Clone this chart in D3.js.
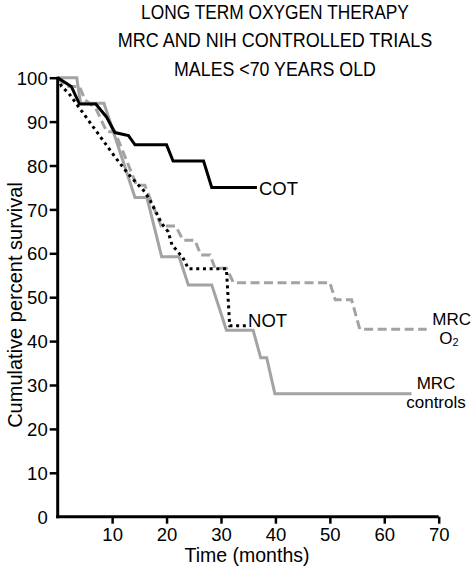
<!DOCTYPE html>
<html><head><meta charset="utf-8">
<script src="https://cdn.jsdelivr.net/npm/d3@7"></script>
<style>
body{margin:0;background:#fff;}
svg text{font-family:"Liberation Sans",Arial,sans-serif;fill:#000;}
</style></head>
<body><svg id="c" width="473" height="568"></svg>
<script>
const titleLines = ["LONG TERM OXYGEN THERAPY","MRC AND NIH CONTROLLED TRIALS","MALES <70 YEARS OLD"];
const xTicks = [10,20,30,40,50,60,70];
const yTicks = [0,10,20,30,40,50,60,70,80,90,100];
const xLabel = "Time (months)";
const yLabel = "Cumulative percent survival";

// [months, percent]
const cot = [[0,100],[2.5,98],[4,94],[7,94],[9,91],[10.5,87.5],[13,86.8],[14.2,84.7],[20,84.7],[21.2,81],[26.8,81],[28.3,75],[36.6,75]];
const notData = [[0,100],[0.7,98],[2,96.5],[10.8,81.5],[13,78],[16,74],[17,72],[19.1,66.8],[20.3,64.9],[21,61.9],[23,59],[24,56.5],[31,56.5],[31.6,43.5],[34.6,43.5]];
const mrcO2 = [[0,100],[1.5,98],[4,98],[5,95],[7,93],[9,87.7],[10.5,87.7],[14.5,75.5],[16,75.5],[19,66.2],[21.7,66.2],[23,63],[25.2,63],[26.3,59.6],[28,59.6],[28.9,56.6],[31,56.6],[32.3,53.3],[50,53.3],[51,49.4],[54,49.4],[55.5,42.7],[67.8,42.7]];
const mrcControls = [[0,100],[3.5,100],[4.2,94.2],[8.5,94.2],[14.2,72.7],[16.4,72.7],[19.1,59.2],[22.3,59.2],[24,52.8],[28.3,52.8],[31,42.5],[35.9,42.5],[37.3,36.2],[38.4,36.2],[39.9,28],[65,28]];

const svg = d3.select("#c");
const x = d3.scaleLinear().domain([0,70]).range([57.7,438.7]);
const y = d3.scaleLinear().domain([0,100]).range([516.7,77.7]);
const GRAY = "#a3a3a3";

// title (horizontally scaled to the reference widths)
const titleWidths = [268,315,202];
titleLines.forEach((t,i)=>{
  const g = svg.append("g");
  const el = g.append("text").attr("x",0).attr("y",0)
    .attr("text-anchor","middle").attr("font-size",20.5).text(t);
  const w = el.node().getComputedTextLength();
  const sx = titleWidths[i]/w;
  g.attr("transform",`translate(275,${18.5+i*28.5}) scale(${sx},1)`);
});

// lines
const line = d3.line().x(d=>x(d[0])).y(d=>y(d[1]));
svg.append("path").datum(mrcControls).attr("d",line).attr("fill","none").attr("stroke",GRAY).attr("stroke-width",3);
svg.append("path").datum(mrcO2).attr("d",line).attr("fill","none").attr("stroke",GRAY).attr("stroke-width",3).attr("stroke-dasharray","9,4.5");
svg.append("path").datum(notData).attr("d",line).attr("fill","none").attr("stroke","#000").attr("stroke-width",3).attr("stroke-dasharray","3,3.7");
svg.append("path").datum(cot).attr("d",line).attr("fill","none").attr("stroke","#000").attr("stroke-width",3);

// axes
const xAxis = d3.axisBottom(x).tickValues(xTicks).tickSize(7).tickPadding(4).tickFormat(d3.format("d"));
const gx = svg.append("g").attr("transform",`translate(0,${y(0)})`).call(xAxis);
gx.select(".domain").attr("stroke","#000").attr("stroke-width",3).attr("d",`M${x(0)-1.5},0H${x(70)}`);
gx.selectAll(".tick line").attr("stroke","#000").attr("stroke-width",2.5);
gx.selectAll(".tick text").attr("font-size",18.5).attr("font-family","Liberation Sans, Arial, sans-serif").attr("fill","#000");

const yAxis = d3.axisLeft(y).tickValues(yTicks).tickSize(8).tickPadding(2).tickFormat(d3.format("d"));
const gy = svg.append("g").attr("transform",`translate(${x(0)},0)`).call(yAxis);
gy.select(".domain").attr("stroke","#000").attr("stroke-width",3).attr("d",`M0,${y(100)-1}V${y(0)+1.5}`);
gy.selectAll(".tick line").attr("stroke","#000").attr("stroke-width",2.5).filter(d=>d===0).remove();
gy.selectAll(".tick text").attr("font-size",18.5).attr("font-family","Liberation Sans, Arial, sans-serif").attr("fill","#000").attr("dy","0.36em");

// axis labels
svg.append("text").attr("x",247).attr("y",562).attr("text-anchor","middle").attr("font-size",19.5).text(xLabel);
svg.append("text").attr("transform",`translate(22,305) rotate(-90)`).attr("text-anchor","middle").attr("font-size",20).text(yLabel);

// series labels
svg.append("text").attr("x",x(36.6)+2).attr("y",195).attr("font-size",18.5).text("COT");
svg.append("text").attr("x",x(34.6)+2).attr("y",326.7).attr("font-size",18.5).text("NOT");
svg.append("text").attr("x",451.7).attr("y",325).attr("text-anchor","middle").attr("font-size",17).text("MRC");
const o2 = svg.append("text").attr("x",449).attr("y",344).attr("text-anchor","middle").attr("font-size",17);
o2.append("tspan").text("O");
o2.append("tspan").attr("font-size",11).attr("dy",2).text("2");
svg.append("text").attr("x",436).attr("y",389).attr("text-anchor","middle").attr("font-size",17).text("MRC");
svg.append("text").attr("x",436).attr("y",408).attr("text-anchor","middle").attr("font-size",17).text("controls");
</script></body></html>
